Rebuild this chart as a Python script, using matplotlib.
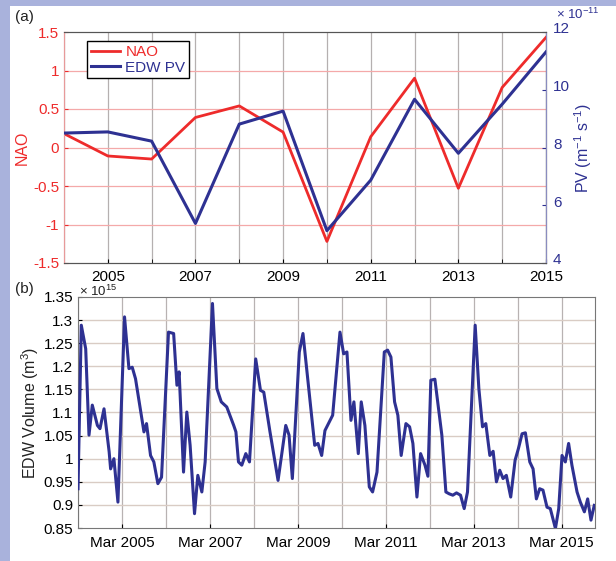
import numpy as np
import matplotlib
matplotlib.use("Agg")
import matplotlib.pyplot as plt
import matplotlib.transforms as mtransforms
from matplotlib.patches import Rectangle
from matplotlib.ticker import FixedLocator, FixedFormatter

plt.rcParams['font.family'] = ['Liberation Sans Narrow', 'Liberation Sans', 'DejaVu Sans']
plt.rcParams['mathtext.fontset'] = 'custom'
plt.rcParams['mathtext.rm'] = 'Liberation Sans'
plt.rcParams['mathtext.it'] = 'Liberation Sans'
plt.rcParams['mathtext.bf'] = 'Liberation Sans'
plt.rcParams['axes.unicode_minus'] = False

# ---------------- data: panel (a) ----------------
years = [2004, 2005, 2006, 2007, 2008, 2009, 2010, 2011, 2012, 2013, 2014, 2015]
nao = [0.18, -0.11, -0.15, 0.39, 0.54, 0.20, -1.22, 0.14, 0.90, -0.53, 0.78, 1.43]
pv_e11 = [8.5, 8.54, 8.22, 5.37, 8.81, 9.26, 5.12, 6.87, 9.67, 7.80, 9.5, 11.31]  # x 10^-11

nao_ticks = [-1.5, -1, -0.5, 0, 0.5, 1, 1.5]
nao_ticklabels = ['-1.5', '-1', '-0.5', '0', '0.5', '1', '1.5']
pv_ticks = [4, 6, 8, 10, 12]
year_label_ticks = [2005, 2007, 2009, 2011, 2013, 2015]
year_minor_ticks = [2004, 2006, 2008, 2010, 2012, 2014]

# ---------------- data: panel (b) ----------------
# months since Mar 2004, EDW volume in units of 10^15 m^3
vol_month = [0, 0.9, 2.1, 3.0, 3.9, 5.3, 6.0, 7.1, 8.5, 8.9, 9.8, 10.9,
             12.7, 13.9, 14.8, 15.7, 18.0, 18.7, 19.8, 20.7, 21.8, 22.8,
             24.7, 26.1, 27.0, 27.6, 28.8, 29.7, 30.6, 31.8, 32.7, 33.8, 34.7,
             36.7, 37.9, 39.1, 40.6, 42.5, 43.1, 43.8, 44.7, 45.8, 46.8,
             48.5, 49.8, 50.7, 52.4, 54.6, 56.7, 57.6, 58.5,
             60.4, 61.4, 64.6, 65.5, 66.5, 67.4, 69.5, 71.5,
             72.5, 73.4, 74.5, 75.3, 76.5, 77.3, 78.3, 79.5, 80.4, 81.6,
             83.6, 84.5, 85.4, 86.4, 87.3, 88.2, 89.5, 90.5, 91.4, 92.5, 93.5,
             94.7, 95.5, 96.3, 97.4, 99.3, 100.4, 101.3, 102.3, 103.3, 104.4,
             105.4, 106.3, 108.4, 109.4, 110.4, 111.3, 112.4, 113.3, 114.2,
             115.1, 116.0, 116.9, 118.1, 119.3, 120.2, 121.2, 122.1, 123.3,
             124.2, 125.1, 126.0, 126.9, 128.0, 128.9, 130.3, 131.2, 132.1,
             133.0, 133.9, 134.8, 136.2, 137.1, 138.2, 139.1, 140.0, 140.9]
vol_e15 = [0.935, 1.289, 1.238, 1.051, 1.116, 1.072, 1.065, 1.108, 1.015, 0.978, 1.0, 0.906,
           1.307, 1.195, 1.198, 1.173, 1.058, 1.076, 1.007, 0.993, 0.946, 0.960,
           1.274, 1.271, 1.159, 1.188, 0.971, 1.101, 1.029, 0.881, 0.964, 0.928, 0.993,
           1.336, 1.152, 1.123, 1.112, 1.072, 1.058, 0.993, 0.986, 1.011, 0.993,
           1.216, 1.148, 1.144, 1.058, 0.953, 1.072, 1.051, 0.957,
           1.231, 1.271, 1.029, 1.033, 1.007, 1.061, 1.094, 1.274,
           1.227, 1.231, 1.083, 1.123, 1.011, 1.123, 1.072, 0.939, 0.928, 0.971,
           1.231, 1.235, 1.220, 1.123, 1.094, 1.007, 1.076, 1.069, 1.033, 0.917, 1.011,
           0.986, 0.962, 1.170, 1.172, 1.051, 0.928, 0.924, 0.921, 0.926, 0.921,
           0.892, 0.928, 1.289, 1.152, 1.069, 1.076, 1.007, 1.016, 0.950,
           0.975, 0.957, 0.964, 0.917, 0.997, 1.022, 1.054, 1.056, 0.993,
           0.978, 0.913, 0.935, 0.932, 0.895, 0.892, 0.849, 0.892, 1.007,
           0.993, 1.033, 0.986, 0.928, 0.906, 0.885, 0.913, 0.867, 0.899]
vol_ticks = [0.85, 0.9, 0.95, 1.0, 1.05, 1.1, 1.15, 1.2, 1.25, 1.3, 1.35]
vol_ticklabels = ['0.85', '0.9', '0.95', '1', '1.05', '1.1', '1.15', '1.2', '1.25', '1.3', '1.35']
mar_label_years = [2005, 2007, 2009, 2011, 2013, 2015]
mar_grid_years = list(range(2004, 2016))

RED = '#ee2b2b'
BLUE = '#2e3192'
LAV = '#a9b2dc'

W, H = 616, 561
fig = plt.figure(figsize=(W / 100, H / 100), dpi=100, facecolor='white')
# lavender frame on left and top
fig.patches.append(Rectangle((0, 0), 10 / W, 1, transform=fig.transFigure,
                             facecolor=LAV, edgecolor='none', zorder=-10))
fig.patches.append(Rectangle((0, 1 - 6 / H), 1, 6 / H, transform=fig.transFigure,
                             facecolor=LAV, edgecolor='none', zorder=-10))


def fx(px):
    return px / W


def fy(py):
    return 1 - py / H


FS = 11

# ---------------- panel (a) ----------------
ax1 = fig.add_axes([fx(64), fy(263), fx(546) - fx(64), fy(32) - fy(263)])
ax2 = ax1.twinx()

l1, = ax1.plot(years, nao, color=RED, lw=2.0, label='NAO', zorder=3)
l2, = ax2.plot(years, pv_e11, color=BLUE, lw=2.2, label='EDW PV', zorder=3)

ax1.set_xlim(2004, 2015)
ax1.set_ylim(-1.5, 1.5)
ax2.set_ylim(4, 12)

ax1.xaxis.set_major_locator(FixedLocator(year_label_ticks))
ax1.xaxis.set_major_formatter(FixedFormatter([str(y) for y in year_label_ticks]))
ax1.xaxis.set_minor_locator(FixedLocator(year_minor_ticks))
ax1.set_yticks(nao_ticks)
ax1.set_yticklabels(nao_ticklabels)
ax2.set_yticks(pv_ticks)
ax2.set_yticklabels([str(v) for v in pv_ticks])

for x in years:
    ax1.axvline(x, color='#b5b0b0', lw=0.9, zorder=1)
for y in nao_ticks[1:-1]:
    ax1.axhline(y, color='#f4a9a9', lw=0.9, zorder=1)

ax1.tick_params(axis='x', which='both', direction='in', length=3, labelsize=FS, pad=5)
ax1.tick_params(axis='y', direction='in', length=3, labelsize=FS, colors=RED, labelcolor=RED)
ax2.tick_params(axis='y', direction='in', length=3, labelsize=FS, colors=BLUE, labelcolor=BLUE, pad=5)
# right-hand labels sit slightly above their ticks in the reference
shift_up = mtransforms.ScaledTranslation(0, 3 / 72, fig.dpi_scale_trans)
for lab in ax2.get_yticklabels():
    lab.set_transform(lab.get_transform() + shift_up)

ax1.spines['left'].set_color('#e89a9a')
ax2.spines['left'].set_color('#e89a9a')
ax2.spines['right'].set_color('#8a8cc0')
for a in (ax1, ax2):
    a.spines['top'].set_color('#555555')
    a.spines['bottom'].set_color('#555555')

ax1.set_ylabel('NAO', color=RED, fontsize=FS + 0.5, labelpad=2)
ax2.set_ylabel(r'PV (m$^{-1}$ s$^{-1}$)', color=BLUE, fontsize=FS + 0.5, labelpad=2)

leg = ax2.legend(handles=[l1, l2], loc='upper left', bbox_to_anchor=(0.048, 0.96),
                 frameon=True, fancybox=False, fontsize=FS, handlelength=1.9,
                 borderpad=0.25, labelspacing=0.1, handletextpad=0.35, borderaxespad=0,
                 framealpha=1)
leg.get_frame().set_edgecolor('black')
leg.get_frame().set_linewidth(1.0)
leg.texts[0].set_color(RED)
leg.texts[1].set_color(BLUE)
leg.set_zorder(10)

fig.text(fx(556), fy(14), r'$\times$ 10$^{-11}$', color=BLUE, fontsize=9.5, ha='left', va='center')
fig.text(fx(15), fy(17), '(a)', fontsize=FS, ha='left', va='center', color='#222222')

# ---------------- panel (b) ----------------
ax3 = fig.add_axes([fx(78), fy(528), fx(595) - fx(78), fy(297) - fy(528)])
vol_t = [2004 + 2 / 12 + m / 12 for m in vol_month]
ax3.plot(vol_t, vol_e15, color=BLUE, lw=2.2, zorder=3)
ax3.set_xlim(2004 + 2 / 12, 2004 + 2 / 12 + 141.1 / 12)
ax3.set_ylim(0.85, 1.35)
ax3.set_yticks(vol_ticks)
ax3.set_yticklabels(vol_ticklabels)
mar_pos = [y + 2 / 12 for y in mar_label_years]
ax3.xaxis.set_major_locator(FixedLocator(mar_pos))
ax3.xaxis.set_major_formatter(FixedFormatter(['Mar %d' % y for y in mar_label_years]))
for y in mar_grid_years:
    ax3.axvline(y + 2 / 12, color='#b8b2b2', lw=0.9, zorder=1)
for v in vol_ticks[1:-1]:
    ax3.axhline(v, color='#d9ccc4', lw=1.0, zorder=1)
ax3.tick_params(axis='both', direction='in', length=3, labelsize=FS)
ax3.tick_params(axis='x', pad=6)
for s in ax3.spines.values():
    s.set_color('#777777')
ax3.set_ylabel(r'EDW Volume (m$^3$)', fontsize=FS + 0.5, labelpad=2, color='#222222')

fig.text(fx(79), fy(291), r'$\times$ 10$^{15}$', fontsize=9.5, ha='left', va='center', color='#222222')
fig.text(fx(15), fy(289), '(b)', fontsize=FS, ha='left', va='center', color='#222222')

fig.savefig('out.png', dpi=100, facecolor='white')
